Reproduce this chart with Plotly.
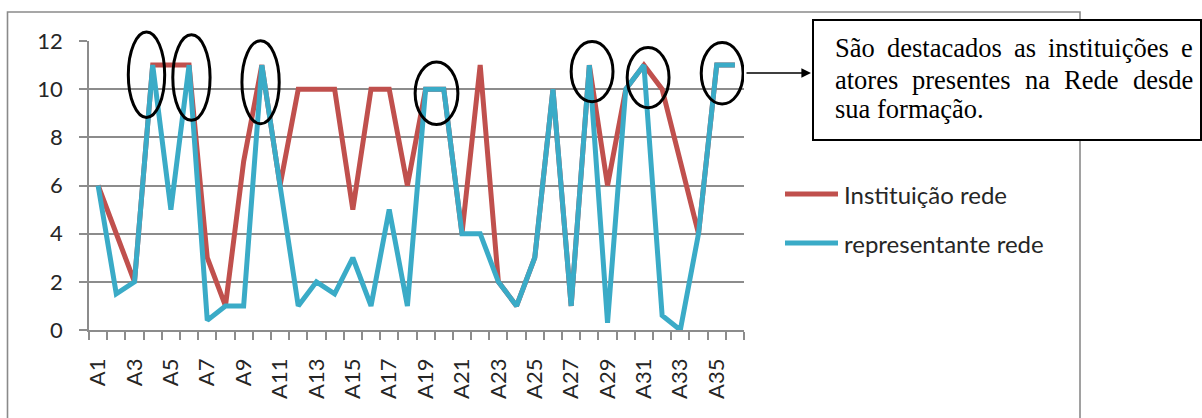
import plotly.graph_objects as go

# Categories (actors A1..A36)
categorias = ["A1", "A2", "A3", "A4", "A5", "A6", "A7", "A8", "A9", "A10",
              "A11", "A12", "A13", "A14", "A15", "A16", "A17", "A18", "A19", "A20",
              "A21", "A22", "A23", "A24", "A25", "A26", "A27", "A28", "A29", "A30",
              "A31", "A32", "A33", "A34", "A35", "A36"]

instituicao_rede = [6, 4, 2, 11, 11, 11, 3, 1, 7, 11,
                    6, 10, 10, 10, 5, 10, 10, 6, 10, 10,
                    4, 11, 2, 1, 3, 10, 1, 11, 6, 10,
                    11, 10, 7, 4, 11, 11]

representante_rede = [6, 1.5, 2, 11, 5, 11, 0.4, 1, 1, 11,
                      6, 1, 2, 1.5, 3, 1, 5, 1, 10, 10,
                      4, 4, 2, 1, 3, 10, 1, 11, 0.3, 10,
                      11, 0.6, 0, 4, 11, 11]

# Only every other category gets a visible label
rotulos_x = [c if i % 2 == 0 else "" for i, c in enumerate(categorias)]
valores_y = [0, 2, 4, 6, 8, 10, 12]

# Actors present since the network's formation (circled on the chart)
destaques = [["A4"], ["A6"], ["A10"], ["A19", "A20"], ["A28"], ["A31"], ["A35", "A36"]]

nomes_series = ["Instituição rede", "representante rede"]
texto_caixa = ["São destacados as instituições e",
               "atores presentes na Rede desde",
               "sua formação."]

COR_VERMELHA = "#C0504D"
COR_AZUL = "#3AABC7"
COR_GRADE = "#8C8C8C"
COR_TEXTO = "#262626"
FONTE = "Lato"
FONTE_SERIFA = "Liberation Serif"

W, H = 1202, 418
ML, MR, MT, MB = 89, 458, 41, 88
PW, PH = W - ML - MR, H - MT - MB
Y_MAX = 12


def px(x):
    return (x - ML) / PW


def py(y):
    return (H - MB - y) / PH


fig = go.Figure()
fig.add_trace(go.Scatter(x=categorias, y=instituicao_rede, mode="lines",
                         name=nomes_series[0], showlegend=False,
                         line=dict(color=COR_VERMELHA, width=5)))
fig.add_trace(go.Scatter(x=categorias, y=representante_rede, mode="lines",
                         name=nomes_series[1], showlegend=False,
                         line=dict(color=COR_AZUL, width=5)))

shapes = []
annotations = []

# Outer chart frame
shapes.append(dict(type="rect", xref="paper", yref="paper", layer="below",
                   x0=px(7.5), x1=px(1080), y0=py(430), y1=py(12),
                   line=dict(color="#8A8A8A", width=1.6), fillcolor="rgba(0,0,0,0)"))

# Hand-drawn style ellipses around the highlighted actors
contornos = [(-0.34, -0.40, 2.0, 3.55), (0.13, -0.52, 2.05, 3.55), (-0.07, -0.71, 2.05, 3.45),
             (0.10, -0.17, 2.35, 2.6), (0.15, -0.27, 2.3, 2.5), (0.23, -0.52, 2.3, 2.5),
             (-0.20, -0.34, 2.3, 2.55)]
for grupo, (dx, dy, w, h) in zip(destaques, contornos):
    idx = [categorias.index(c) for c in grupo]
    cx = sum(idx) / len(idx) + dx
    cy = max(representante_rede[i] for i in idx) + dy
    shapes.append(dict(type="circle", xref="x", yref="paper", layer="above",
                       x0=cx - w / 2, x1=cx + w / 2,
                       y0=(cy - h / 2) / Y_MAX, y1=(cy + h / 2) / Y_MAX,
                       line=dict(color="black", width=3)))

# Manual legend
for nome, cor, ly in zip(nomes_series, [COR_VERMELHA, COR_AZUL], [194, 243]):
    shapes.append(dict(type="line", xref="paper", yref="paper",
                       x0=px(785), x1=px(838), y0=py(ly), y1=py(ly),
                       line=dict(color=cor, width=5)))
    annotations.append(dict(xref="paper", yref="paper", x=px(843), y=py(ly),
                            xanchor="left", yanchor="middle", showarrow=False,
                            text=nome, borderpad=0,
                            font=dict(family=FONTE, size=24, color=COR_TEXTO)))

# Callout box
shapes.append(dict(type="rect", xref="paper", yref="paper", layer="above",
                   x0=px(813), x1=px(1201), y0=py(140), y1=py(20),
                   line=dict(color="black", width=2), fillcolor="white"))

# Arrow from the last ellipse to the callout box
annotations.append(dict(xref="paper", yref="paper", x=px(811), y=py(73),
                        ax=-66, ay=0, text="", showarrow=True,
                        arrowhead=2, arrowsize=1.2, arrowwidth=1.6, arrowcolor="black"))

# Justified serif text inside the callout box
TIMES = {"a": 444, "c": 444, "d": 500, "e": 444, "f": 333, "i": 278, "m": 778,
         "n": 500, "o": 500, "p": 500, "r": 333, "s": 389, "t": 278, "u": 500,
         "R": 667, "S": 556, ".": 250, "ã": 444, "ç": 444, "õ": 500}
TAM = 26.5
ESQ, DIR = 834, 1192
bases = [56, 88, 117]


def largura(palavra):
    return sum(TIMES.get(ch, 500) for ch in palavra) / 1000 * TAM


for k, (linha, base) in enumerate(zip(texto_caixa, bases)):
    palavras = linha.split()
    ws = [largura(p) for p in palavras]
    if k < len(texto_caixa) - 1:
        gap = (DIR - ESQ - sum(ws)) / (len(palavras) - 1)
    else:
        gap = 0.25 * TAM
    x = ESQ
    for p, wp in zip(palavras, ws):
        annotations.append(dict(xref="paper", yref="paper", x=px(x), y=py(base - 0.32 * TAM),
                                xanchor="left", yanchor="middle", showarrow=False,
                                text=p, borderpad=0,
                                font=dict(family=FONTE_SERIFA, size=TAM, color="black")))
        x += wp + gap

fig.update_layout(
    width=W, height=H,
    margin=dict(l=ML, r=MR, t=MT, b=MB, autoexpand=False),
    paper_bgcolor="white", plot_bgcolor="white",
    showlegend=False,
    shapes=shapes, annotations=annotations,
    xaxis=dict(type="category", categoryorder="array", categoryarray=categorias,
               range=[-0.5, len(categorias) - 0.5],
               tickmode="array", tickvals=categorias, ticktext=rotulos_x,
               tickson="boundaries", ticks="outside", ticklen=8, tickwidth=1.6,
               tickcolor=COR_GRADE, tickangle=-90, ticklabelstandoff=18,
               showline=True, linecolor=COR_GRADE, linewidth=1.6,
               showgrid=False, zeroline=False,
               tickfont=dict(family=FONTE, size=22, color=COR_TEXTO)),
    yaxis=dict(range=[0, Y_MAX], tickmode="array", tickvals=valores_y,
               ticks="outside", ticklen=8, tickwidth=1.6, tickcolor=COR_GRADE,
               ticklabelstandoff=12,
               showline=True, linecolor=COR_GRADE, linewidth=1.6,
               showgrid=True, gridcolor=COR_GRADE, gridwidth=1.6, zeroline=False,
               tickfont=dict(family=FONTE, size=22, color=COR_TEXTO)),
)

fig.write_html("out.html")
